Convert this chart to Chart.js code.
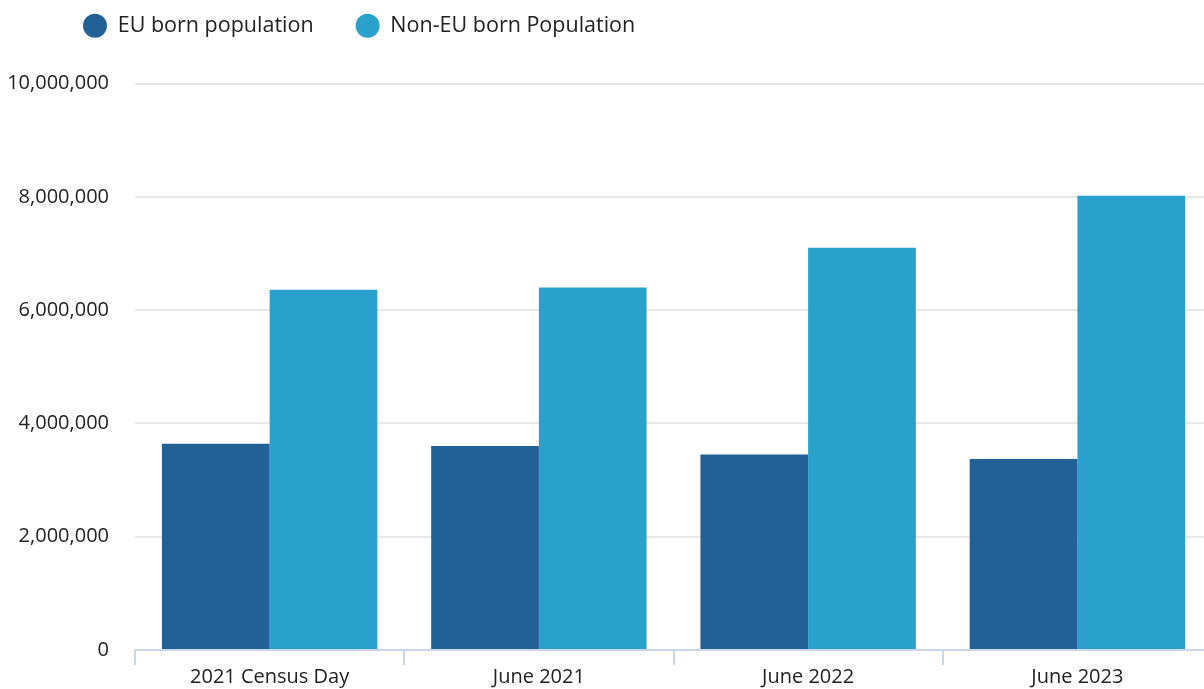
<!DOCTYPE html>
<html>
<head>
<meta charset="utf-8">
<script src="https://cdn.jsdelivr.net/npm/chart.js@4"></script>
<style>
  html, body { margin: 0; padding: 0; background: #fff; overflow: hidden; }
  #wrap { width: 1212px; height: 689px; position: relative; }
</style>
</head>
<body>
<div id="wrap"><canvas id="chart"></canvas></div>
<script>
const categories = ["2021 Census Day", "June 2021", "June 2022", "June 2023"];
const euBorn = [3640000, 3600000, 3450000, 3370000];
const nonEuBorn = [6360000, 6400000, 7100000, 8020000];
const seriesNames = ["EU born population", "Non-EU born Population"];
const yTicks = { min: 0, max: 10000000, step: 2000000 };

const FONT = "'Open Sans', 'Noto Sans', sans-serif";
const TEXT = "#222";

// nudge the legend into place (Chart.js always starts it at the left padding)
const legendShift = {
  id: "legendShift",
  afterLayout(chart) {
    chart.legend.left += 33;
    chart.legend.top -= 37;
  },
};

new Chart(document.getElementById("chart"), {
  type: "bar",
  data: {
    labels: categories,
    datasets: [
      { label: seriesNames[0], data: euBorn, backgroundColor: "#216195" },
      { label: seriesNames[1], data: nonEuBorn, backgroundColor: "#29a1cc" },
    ],
  },
  options: {
    responsive: true,
    maintainAspectRatio: false,
    animation: false,
    categoryPercentage: 0.8,
    barPercentage: 1.0,
    layout: { padding: { left: 8, right: 0, top: 10, bottom: 0 } },
    plugins: {
      tooltip: { enabled: false },
      legend: {
        position: "top",
        align: "start",
        labels: {
          usePointStyle: true,
          pointStyle: "circle",
          pointStyleWidth: 24,
          boxHeight: 17,
          padding: 42,
          color: TEXT,
          font: { family: FONT, size: 21.5 },
        },
      },
    },
    scales: {
      x: {
        grid: {
          drawOnChartArea: false,
          drawTicks: true,
          tickLength: 15,
          color: "#ccd6eb",
          lineWidth: 2,
        },
        border: { color: "#ccd6eb", width: 2 },
        ticks: { color: TEXT, font: { family: FONT, size: 20 }, padding: 0 },
      },
      y: {
        min: yTicks.min,
        max: yTicks.max,
        grid: { color: "#e8e8e8", lineWidth: 2, drawTicks: false },
        border: { display: false },
        afterFit: (scale) => { scale.width = 127; },
        ticks: {
          stepSize: yTicks.step,
          padding: 26,
          color: TEXT,
          font: { family: FONT, size: 20 },
          callback: (v) => Number(v).toLocaleString("en-US"),
        },
      },
    },
  },
  plugins: [legendShift],
});
</script>
</body>
</html>
